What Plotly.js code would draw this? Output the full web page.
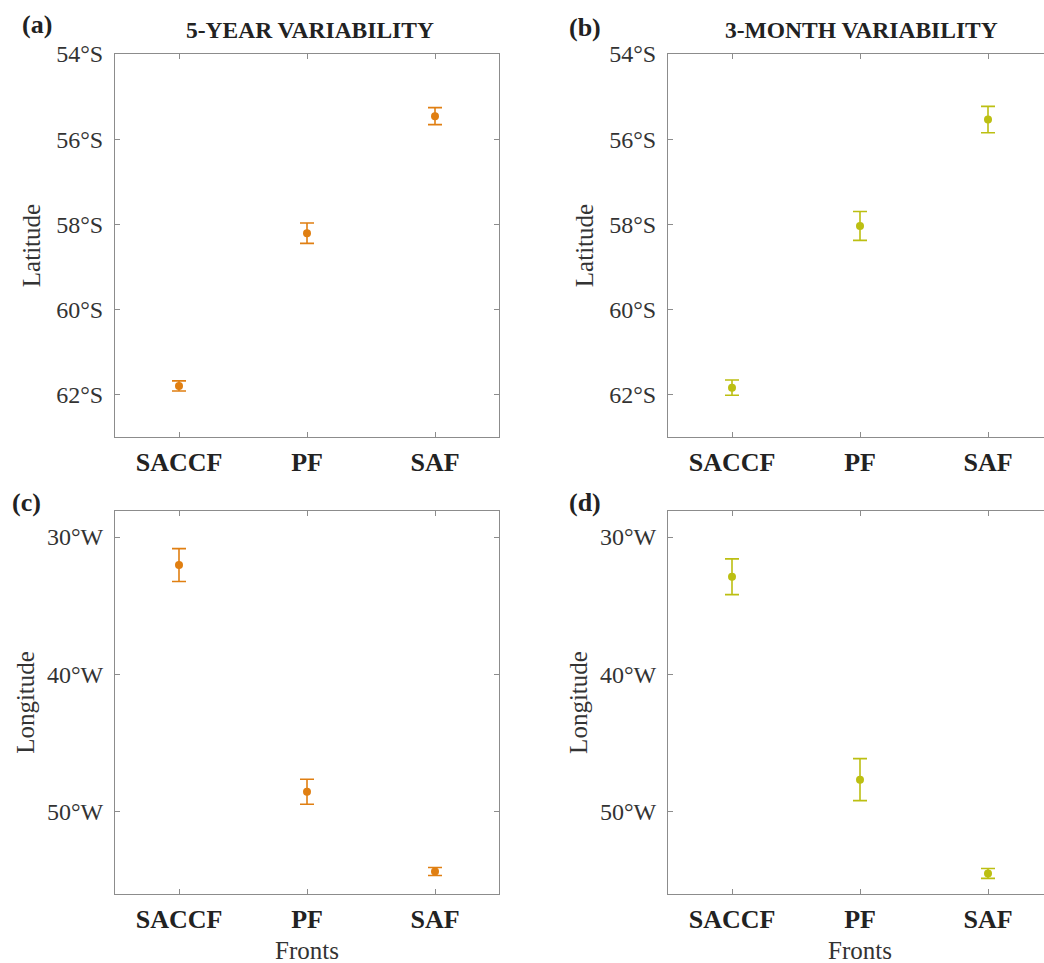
<!DOCTYPE html>
<html>
<head>
<meta charset="utf-8">
<script src="https://cdn.plot.ly/plotly-3.0.1.min.js"></script>
<style>html,body{margin:0;padding:0;background:#fff;overflow:hidden}</style>
</head>
<body>
<div id="chart" style="width:1044px;height:963px"></div>
<script>
// ---- data (degrees; south / west stored as negative) ----
const fronts = ['SACCF', 'PF', 'SAF'];
const lat5yr = [-61.80, -58.21, -55.46];
const lat5yrErr = [0.12, 0.24, 0.20];
const lat3mo = [-61.84, -58.04, -55.54];
const lat3moErr = [0.18, 0.34, 0.31];
const lon5yr = [-32.04, -48.55, -54.36];
const lon5yrErr = [1.20, 0.91, 0.29];
const lon3mo = [-32.89, -47.67, -54.50];
const lon3moErr = [1.30, 1.53, 0.36];
const latTickVals = [-54, -56, -58, -60, -62];
const latTickText = ['54°S', '56°S', '58°S', '60°S', '62°S'];
const lonTickVals = [-30, -40, -50];
const lonTickText = ['30°W', '40°W', '50°W'];
const panelTitles = ['5-YEAR VARIABILITY', '3-MONTH VARIABILITY'];
const panelLetters = ['(a)', '(b)', '(c)', '(d)'];
const xTitle = 'Fronts';

const orange = '#E07F12';
const lime = '#BCBF12';
const W = 1044, H = 963;
const FONT = '"Liberation Serif", "Times New Roman", Times, serif';

function tr(y, err, color, xa, ya) {
  return {
    type: 'scatter', mode: 'markers', x: fronts, y: y,
    xaxis: xa, yaxis: ya, showlegend: false,
    marker: {color: color, size: 8},
    error_y: {type: 'data', array: err, visible: true, color: color, thickness: 1.6, width: 7}
  };
}
const data = [
  tr(lat5yr, lat5yrErr, orange, 'x', 'y'),
  tr(lat3mo, lat3moErr, lime, 'x2', 'y2'),
  tr(lon5yr, lon5yrErr, orange, 'x3', 'y3'),
  tr(lon3mo, lon3moErr, lime, 'x4', 'y4')
];

const px = v => v / W;
const py = v => 1 - v / H;
const leftDom = [px(115), px(499)];
const rightDom = [px(668), 1];
const topDom = [py(437), py(54)];
const botDom = [py(894), py(511)];

function xax(dom, anchor, right) {
  return {
    domain: dom, anchor: anchor, type: 'category',
    range: right ? [-0.5, -0.5 + (W - 668) / 128] : [-0.5, 2.5],
    showline: true, linecolor: '#8c8c8c', linewidth: 1, mirror: 'ticks',
    ticks: 'inside', ticklen: 5, tickcolor: '#8c8c8c', showgrid: false, zeroline: false,
    tickfont: {family: FONT, size: 26, color: '#222', weight: 'bold'},
    ticklabelstandoff: 2,
    title: {text: ''},
    fixedrange: true
  };
}
function yax(dom, anchor, range, vals, text, title, right, tstand) {
  return {
    domain: dom, anchor: anchor, range: range,
    tickvals: vals, ticktext: text,
    showline: true, linecolor: '#8c8c8c', linewidth: 1, mirror: right ? false : 'ticks',
    ticks: 'inside', ticklen: 5, tickcolor: '#8c8c8c', showgrid: false, zeroline: false,
    tickfont: {family: FONT, size: 24, color: '#333'},
    ticklabelstandoff: 6,
    title: {text: title, font: {family: FONT, size: 25, color: '#333'}, standoff: tstand},
    fixedrange: true
  };
}

const latRange = [-63, -54];
const lonRange = [-56, -28.1];

const annotations = [];
const letterPos = [[20, 25], [567, 27], [10, 502], [567, 502]];
panelLetters.forEach((t, i) => annotations.push({
  text: t, xref: 'paper', yref: 'paper', x: px(letterPos[i][0]), y: py(letterPos[i][1]),
  xanchor: 'left', yanchor: 'middle', showarrow: false,
  font: {family: FONT, size: 26, color: '#222', weight: 'bold'}
}));
const titleX = [310, 861];
panelTitles.forEach((t, i) => annotations.push({
  text: t, xref: 'paper', yref: 'paper', x: px(titleX[i]), y: py(30),
  xanchor: 'center', yanchor: 'middle', showarrow: false,
  font: {family: FONT, size: 23.5, color: '#222', weight: 'bold'}
}));
[307, 860].forEach(xc => annotations.push({
  text: xTitle, xref: 'paper', yref: 'paper', x: px(xc), y: py(950),
  xanchor: 'center', yanchor: 'middle', showarrow: false,
  font: {family: FONT, size: 25, color: '#333'}
}));

const layout = {
  width: W, height: H, margin: {l: 0, r: 0, t: 0, b: 0},
  paper_bgcolor: '#fff', plot_bgcolor: '#fff', showlegend: false,
  font: {family: FONT},
  xaxis: xax(leftDom, 'y', false),
  yaxis: yax(topDom, 'x', latRange, latTickVals, latTickText, 'Latitude', false, 8),
  xaxis2: xax(rightDom, 'y2', true),
  yaxis2: yax(topDom, 'x2', latRange, latTickVals, latTickText, 'Latitude', true, 8),
  xaxis3: xax(leftDom, 'y3', false),
  yaxis3: yax(botDom, 'x3', lonRange, lonTickVals, lonTickText, 'Longitude', false, 5),
  xaxis4: xax(rightDom, 'y4', true),
  yaxis4: yax(botDom, 'x4', lonRange, lonTickVals, lonTickText, 'Longitude', true, 5),
  annotations: annotations
};

Plotly.newPlot('chart', data, layout, {displayModeBar: false, staticPlot: true});
</script>
</body>
</html>
